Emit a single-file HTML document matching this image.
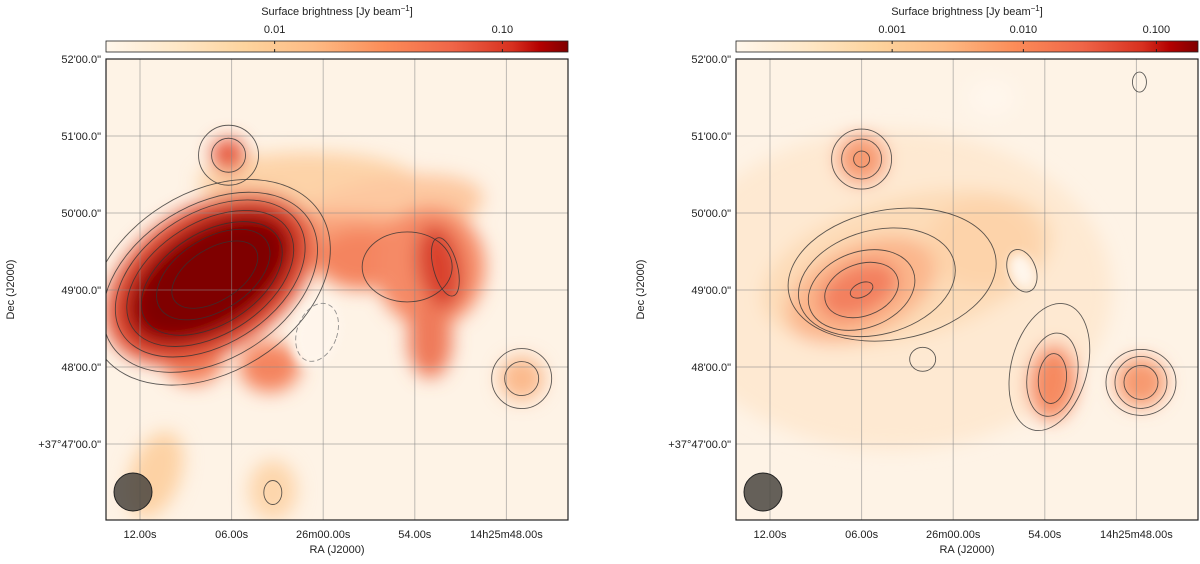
<!DOCTYPE html>
<html><head><meta charset="utf-8">
<style>
html,body{margin:0;padding:0;background:#fff;}
body{width:1200px;height:559px;overflow:hidden;font-family:"Liberation Sans",sans-serif;}
svg text{font-family:"Liberation Sans",sans-serif;fill:#222;}
</style></head>
<body>
<svg id="fig" width="1200" height="559" viewBox="0 0 1200 559" xmlns="http://www.w3.org/2000/svg">
<defs>
<linearGradient id="orrd" x1="0" x2="1" y1="0" y2="0">
<stop offset="0" stop-color="#fff7ec"/><stop offset="0.15" stop-color="#fee8c8"/>
<stop offset="0.3" stop-color="#fdd49e"/><stop offset="0.45" stop-color="#fdbb84"/>
<stop offset="0.6" stop-color="#fc8d59"/><stop offset="0.75" stop-color="#ef6548"/>
<stop offset="0.88" stop-color="#d7301f"/><stop offset="0.94" stop-color="#b30000"/>
<stop offset="1" stop-color="#7f0000"/></linearGradient>
<filter id="blur" x="-50%" y="-50%" width="200%" height="200%"><feGaussianBlur stdDeviation="9"/></filter>
<filter id="blur2" x="-50%" y="-50%" width="200%" height="200%"><feGaussianBlur stdDeviation="5"/></filter>
<clipPath id="clipL"><rect x="106" y="59" width="462" height="461"/></clipPath>
<clipPath id="clipR"><rect x="736" y="59" width="462" height="461"/></clipPath>
</defs>
</svg>
<script>
// Colorbar tick data
const cbTicksL = ["0.01","0.10"];
const cbTickFracL = [0.365, 0.858];
const cbTicksR = ["0.001","0.010","0.100"];
const cbTickFracR = [0.338, 0.622, 0.91];
// Axis tick labels
const raLabels = ["12.00s","06.00s","26m00.00s","54.00s","14h25m48.00s"];
const raVals = [12, 6, 0, -6, -12];
const decLabels = ["52'00.0\"","51'00.0\"","50'00.0\"","49'00.0\"","48'00.0\"","+37°47'00.0\""];
const decVals = [52, 51, 50, 49, 48, 47];
// Emission blobs: [ra offset(s), dec(arcmin), rx(px), ry(px), rotation, color]
const blobsL = [
 [1, 50.4, 110, 30, 0, "#fdd3a8"],
 [-4, 50.0, 100, 35, -10, "#fdc8a0"],
 [-1, 49.6, 130, 30, 0, "#f9a27a"],
 [-2.5, 49.4, 45, 30, 0, "#f4845f"],
 [-7, 49.3, 55, 60, 0, "#f58a66"],
 [-7.6, 49.3, 22, 42, -10, "#d9432f"],
 [-7, 48.35, 22, 38, 0, "#ef7a5a"],
 [11, 46.6, 25, 45, 20, "#fdd2a4"],
 [3.3, 46.4, 24, 30, 0, "#fdd6ac"],
 [8.5, 48.1, 30, 25, 0, "#f4845f"],
 [3.5, 48.0, 30, 25, 0, "#f4845f"],
 [7.4, 49.15, 115, 72, -32, "#e25238"],
 [7.4, 49.15, 97, 57, -32, "#b20f08"],
 [7.4, 49.15, 84, 46, -32, "#7f0000"],
 [6.2, 50.75, 17, 17, 0, "#e6553a"],
 [-13, 47.85, 22, 22, 0, "#fbb98c"]
];
// Sharper low-emission holes: [ra, dec, rx, ry, rot, color]
const holesL = [[0.4, 48.45, 24, 36, 15, "#fff5eb"]];
const blobsR = [
 [4, 49.0, 220, 160, 0, "#fee9d2"],
 [3, 49.3, 150, 70, -15, "#fddcb8"],
 [6, 49.0, 80, 45, -25, "#fbb68c"],
 [6.2, 49.0, 42, 25, -25, "#f3805f"],
 [6, 50.7, 25, 25, 0, "#f79a70"],
 [-6.5, 47.8, 24, 38, 5, "#f68a61"],
 [-12.3, 47.8, 25, 25, 0, "#f79a70"],
 [-2, 49.6, 55, 45, 0, "#fdd3aa"],
 [-2.5, 51.5, 25, 20, 0, "#fff6ec"]
];
const holesR = [[-4.5, 49.25, 12, 18, -20, "#fff6ec"]];
// Contour sets: [ra, dec, rx, ry, rot, dashed]
const contL = [
 [7.4,49.1,130,90,-32,0],[7.4,49.1,117,77,-32,0],[7.4,49.15,104,66,-32,0],[7.4,49.15,92,56,-32,0],
 [7.3,49.15,78,46,-32,0],[7.2,49.2,63,36,-32,0],[7.1,49.2,48,26,-32,0],
 [6.2,50.75,17,17,0,0],[6.2,50.75,30,30,0,0],[-13,47.85,17,17,0,0],[-13,47.85,30,30,0,0],
 [-8.0,49.3,12,30,-15,0],[-5.5,49.3,45,35,0,0],[0.4,48.45,20,30,20,1],[3.3,46.37,9,12,0,0]
];
const contR = [
 [6,49.0,12,7,-25,0],[6,49.0,38,26,-20,0],[6,49.0,55,38,-20,0],[5,49.1,80,52,-15,0],[4,49.2,105,65,-10,0],
 [6,50.7,8,8,0,0],[6,50.7,20,20,0,0],[6,50.7,30,30,0,0],
 [-6.5,47.85,14,25,5,0],[-6.5,47.9,25,42,10,0],[-6.3,48.0,38,65,15,0],
 [-12.3,47.8,17,17,0,0],[-12.3,47.8,26,26,0,0],[-12.3,47.8,35,33,0,0],
 [2,48.1,13,12,0,0],[-4.5,49.25,14,22,-20,0],[-12.2,51.7,7,10,0,0]
];
const NS="http://www.w3.org/2000/svg";
const svg=document.getElementById('fig');
function mk(tag,attrs,parent){const e=document.createElementNS(NS,tag);for(const k in attrs)e.setAttribute(k,attrs[k]);(parent||svg).appendChild(e);return e;}

function panel(px,blobs,holes,conts,cbT,cbF,clip,side){
 const W=462,H=461,py=59;
 const xS=ra=>px+34+(12-ra)*(91.6/6);
 const yS=d=>py+(52-d)*77;
 const cb=mk('rect',{x:px,y:41,width:W,height:11,fill:'url(#orrd)',stroke:'#222','stroke-width':0.8});
 
 
 const ct=mk('text',{x:px+W/2,y:15,'text-anchor':'middle','font-size':11});
 
 
 ct.innerHTML='Surface brightness [Jy beam<tspan dy="-4" font-size="8">−1</tspan><tspan dy="4">]</tspan>';
 cbT.forEach((t,i)=>{const x=px+cbF[i]*W;
  mk('line',{x1:x,x2:x,y1:41,y2:44,stroke:'#222'});mk('line',{x1:x,x2:x,y1:49,y2:52,stroke:'#222'});
  const tl=mk('text',{x:x,y:33,'text-anchor':'middle','font-size':11});
  
  
  tl.textContent=t;});
 const g=mk('g',{'clip-path':'url(#'+clip+')'});
 
 
 mk('rect',{x:px,y:py,width:W,height:H,fill:'#fef3e6'},g);
 const bg=mk('g',{filter:'url(#blur)'},g);
 blobs.forEach(b=>{const cx=xS(b[0]),cy=yS(b[1]);
  const e=mk('ellipse',{cx:cx,cy:cy,rx:b[2],ry:b[3],fill:b[5],transform:`rotate(${b[4]} ${cx} ${cy})`},bg);
  
  });
 const hg=mk('g',{filter:'url(#blur2)'},g);
 holes.forEach(b=>{const cx=xS(b[0]),cy=yS(b[1]);
  const e=mk('ellipse',{cx:cx,cy:cy,rx:b[2],ry:b[3],fill:b[5],transform:`rotate(${b[4]} ${cx} ${cy})`},hg);
  
  });
 raVals.forEach(r=>mk('line',{x1:xS(r),x2:xS(r),y1:py,y2:py+H,stroke:'#888','stroke-opacity':0.55,'stroke-width':1},g));
 decVals.forEach(d=>mk('line',{x1:px,x2:px+W,y1:yS(d),y2:yS(d),stroke:'#888','stroke-opacity':0.55,'stroke-width':1},g));
 conts.forEach(c=>{const cx=xS(c[0]),cy=yS(c[1]);
  const e=mk('ellipse',{cx:cx,cy:cy,rx:c[2],ry:c[3],fill:'none',stroke:c[5]?'#777':'#333','stroke-opacity':0.8,'stroke-width':0.9,'stroke-dasharray':c[5]?'5,3':'none',transform:`rotate(${c[4]} ${cx} ${cy})`},g);
  
  });
 const beam=mk('circle',{cx:px+27,cy:492,r:19,fill:'#4a4540','fill-opacity':0.85,stroke:'#222','stroke-width':1},g);
 
 
 mk('rect',{x:px,y:py,width:W,height:H,fill:'none',stroke:'#222','stroke-width':1.2});
 raVals.forEach((r,i)=>{const t=mk('text',{x:xS(r),y:538,'text-anchor':'middle','font-size':11});
  
  
  t.textContent=raLabels[i];});
 decVals.forEach((d,i)=>{const t=mk('text',{x:px-5,y:yS(d)+4,'text-anchor':'end','font-size':11});
  
  
  t.textContent=decLabels[i];});
 const xl=mk('text',{x:px+W/2,y:553,'text-anchor':'middle','font-size':11});
 
 
 xl.textContent='RA (J2000)';
 const yl=mk('text',{x:0,y:0,'text-anchor':'middle','font-size':11,transform:`translate(${px-92},${py+H/2}) rotate(-90)`});
 
 
 yl.textContent='Dec (J2000)';
}
panel(106,blobsL,holesL,contL,cbTicksL,cbTickFracL,'clipL','left');
panel(736,blobsR,holesR,contR,cbTicksR,cbTickFracR,'clipR','right');
</script>
</body></html>
